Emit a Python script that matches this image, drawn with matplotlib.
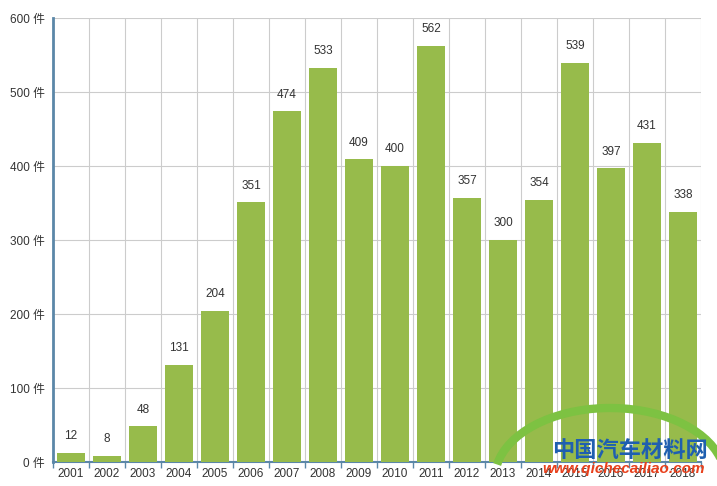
import matplotlib
matplotlib.use("Agg")
import matplotlib.pyplot as plt
from matplotlib.patches import Arc

plt.rcParams['font.family'] = ['Liberation Sans', 'Noto Sans CJK SC', 'DejaVu Sans']

years = ["2001", "2002", "2003", "2004", "2005", "2006", "2007", "2008", "2009",
         "2010", "2011", "2012", "2013", "2014", "2015", "2016", "2017", "2018"]
counts = [12, 8, 48, 131, 204, 351, 474, 533, 409, 400, 562, 357, 300, 354, 539, 397, 431, 338]
yticks = [0, 100, 200, 300, 400, 500, 600]
ytick_labels = [f"{v} 件" for v in yticks]

fig = plt.figure(figsize=(7.17, 4.86), dpi=100)
ax = fig.add_axes([53/717, 24/486, 648/717, 444/486])

x = list(range(len(years)))
ax.bar(x, counts, width=0.8, color="#97bb4b", zorder=3)
for xi, v in zip(x, counts):
    ax.annotate(str(v), (xi, v), xytext=(0, 12), textcoords="offset points",
                ha="center", va="center", fontsize=8.5, color="#333333", zorder=4)

ax.set_xlim(-0.5, len(years) - 0.5)
ax.set_ylim(0, 600)
ax.set_yticks(yticks)
ax.set_yticklabels(ytick_labels, fontsize=8.5, color="#333333")
ax.set_xticks(x)
ax.set_xticklabels(years, fontsize=8.5, color="#333333")
ax.set_xticks([i - 0.5 for i in range(len(years) + 1)], minor=True)

ax.grid(axis="y", color="#cccccc", linewidth=0.8, zorder=0)
ax.grid(axis="x", which="minor", color="#cccccc", linewidth=0.8, zorder=0)
ax.tick_params(axis="x", which="major", length=0, pad=4)
ax.tick_params(axis="x", which="minor", length=4, color="#5b87a8", width=1, direction="out")
ax.tick_params(axis="y", length=0, pad=6)

for s in ["top", "right"]:
    ax.spines[s].set_visible(False)
ax.spines["left"].set_color("#5b87a8")
ax.spines["left"].set_linewidth(2)
ax.spines["bottom"].set_color("#5b87a8")
ax.spines["bottom"].set_linewidth(1.5)

# watermark
arc = Arc((610/717, 1 - 478/486), 230/717, 140/486, theta1=15, theta2=170,
          transform=fig.transFigure, color="#7dc242", linewidth=6, zorder=9)
fig.add_artist(arc)
fig.text(630/717, 1 - 450/486, "中国汽车材料网", ha="center", va="center", fontsize=16,
         color="#1f5fb0", fontweight="bold", style="italic",
         family=["Noto Sans CJK SC"], zorder=10)
fig.text(624/717, 1 - 469/486, "www.qichecailiao.com", ha="center", va="center", fontsize=11,
         color="#e8401c", fontweight="bold", style="italic", zorder=10)

fig.savefig("out.png", dpi=100)
